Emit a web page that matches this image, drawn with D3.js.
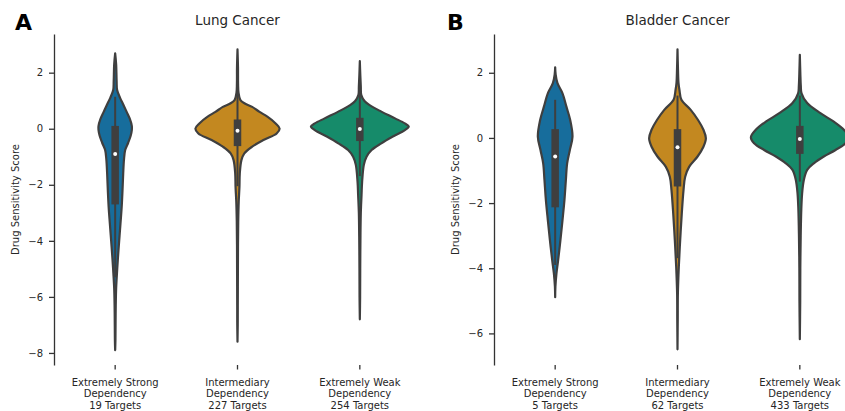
<!DOCTYPE html>
<html>
<head>
<meta charset="utf-8">
<script src="https://cdn.jsdelivr.net/npm/d3@7"></script>
<style>
  html, body { margin: 0; padding: 0; background: #fff; }
  svg { display: block; font-family: "DejaVu Sans", sans-serif; }
</style>
</head>
<body>
<svg id="chart" width="845" height="411"></svg>
<script>
// Dependency groups shown on the x axis
const groupLines = [
  ["Extremely Strong", "Dependency"],
  ["Intermediary", "Dependency"],
  ["Extremely Weak", "Dependency"]
];
const lungTargets = [19, 227, 254];
const bladderTargets = [5, 62, 433];

const groupColors = ["#176d9c", "#c38820", "#168b6a"];

// Kernel density profiles: [score, relative density]
const lungStrong = [[2.69,0],[2.3,0.02],[1.7,0.03],[1.38,0.04],[1.1,0.10],[0.85,0.17],[0.6,0.235],[0.35,0.30],[0.1,0.34],[-0.05,0.34],[-0.25,0.317],[-0.5,0.266],[-0.76,0.205],[-1.1,0.18],[-1.6,0.164],[-2.2,0.15],[-2.8,0.133],[-3.4,0.108],[-4.0,0.082],[-4.6,0.057],[-5.15,0.037],[-5.7,0.02],[-6.3,0.012],[-7.0,0.008],[-7.5,0.006],[-7.9,0]];
const lungInter = [[2.83,0],[2.2,0.01],[1.6,0.012],[1.3,0.02],[1.02,0.06],[0.9,0.15],[0.78,0.30],[0.6,0.45],[0.43,0.61],[0.19,0.78],[0.01,0.86],[-0.17,0.80],[-0.4,0.53],[-0.64,0.30],[-0.88,0.14],[-1.12,0.08],[-1.59,0.047],[-2.07,0.04],[-2.6,0.025],[-3.3,0.015],[-4.2,0.01],[-5.2,0.008],[-6.3,0.006],[-7.0,0.005],[-7.6,0]];
const lungWeak = [[2.41,0],[1.9,0.01],[1.5,0.02],[1.2,0.03],[0.98,0.10],[0.84,0.20],[0.61,0.44],[0.37,0.72],[0.19,0.92],[0.08,1.0],[-0.05,0.92],[-0.28,0.675],[-0.52,0.44],[-0.76,0.24],[-1.0,0.137],[-1.29,0.082],[-1.89,0.047],[-2.36,0.035],[-3.0,0.02],[-4.0,0.012],[-5.0,0.008],[-6.0,0.006],[-6.8,0]];

const bladderStrong = [[2.17,0],[1.95,0.01],[1.68,0.047],[1.37,0.15],[0.96,0.23],[0.55,0.307],[0.04,0.354],[-0.37,0.30],[-0.78,0.245],[-1.29,0.219],[-1.9,0.19],[-2.52,0.15],[-3.13,0.108],[-3.75,0.061],[-4.15,0.027],[-4.57,0.005],[-4.89,0]];
const bladderInter = [[2.72,0],[2.1,0.01],[1.7,0.02],[1.47,0.04],[1.17,0.08],[0.86,0.27],[0.55,0.42],[0.25,0.53],[-0.01,0.58],[-0.27,0.53],[-0.57,0.41],[-0.88,0.24],[-1.19,0.157],[-1.6,0.123],[-2.31,0.088],[-3.13,0.055],[-3.95,0.027],[-4.77,0.008],[-5.59,0.005],[-6.49,0]];
const bladderWeak = [[2.55,0],[2.0,0.01],[1.6,0.02],[1.37,0.035],[1.07,0.15],[0.76,0.42],[0.5,0.695],[0.25,0.90],[0.02,1.0],[-0.16,0.935],[-0.37,0.73],[-0.57,0.49],[-0.78,0.286],[-0.98,0.15],[-1.29,0.082],[-1.7,0.047],[-2.2,0.03],[-3.0,0.018],[-4.0,0.01],[-5.0,0.008],[-6.18,0]];

// Box summaries: [lower whisker, Q1, median, Q3, upper whisker]
const lungBoxes = [[-5.3,-2.7,-0.9,0.1,1.14],[-2.05,-0.62,-0.07,0.33,1.7],[-1.69,-0.44,-0.01,0.39,1.6]];
const bladderBoxes = [[-3.9,-2.13,-0.57,0.27,1.17],[-3.69,-1.49,-0.29,0.27,1.3],[-1.34,-0.49,-0.03,0.37,1.3]];

const lungTicks = [2, 0, -2, -4, -6, -8];
const bladderTicks = [2, 0, -2, -4, -6];

const svg = d3.select("#chart");
const edge = "#3f3f3f";
const textColor = "#262626";
const plotTop = 34, plotBottom = 365;

function panel(opts) {
  const g = svg.append("g");
  const x = d3.scaleBand().domain([0, 1, 2]).range([opts.left, opts.right]).padding(0);
  const y = d3.scaleLinear().domain(opts.yDomain).range([plotBottom, plotTop]);
  const maxD = d3.max(opts.profiles, p => d3.max(p, d => d[1]));
  const w = d3.scaleLinear().domain([0, maxD]).range([0, 0.4 * x.bandwidth()]);

  // violins with inner box
  opts.profiles.forEach((prof, i) => {
    const cx = x(i) + x.bandwidth() / 2;
    const area = d3.area()
      .y(d => y(d[0]))
      .x0(d => cx - w(d[1]))
      .x1(d => cx + w(d[1]))
      .curve(d3.curveCatmullRom.alpha(0.5));
    g.append("path")
      .attr("d", area(prof))
      .attr("fill", groupColors[i])
      .attr("stroke", edge)
      .attr("stroke-width", 2.2)
      .attr("stroke-linejoin", "round");

    const b = opts.boxes[i];
    g.append("line")
      .attr("x1", cx).attr("x2", cx)
      .attr("y1", y(b[0])).attr("y2", y(b[4]))
      .attr("stroke", edge).attr("stroke-width", 2);
    g.append("rect")
      .attr("x", cx - 3.75).attr("width", 7.5)
      .attr("y", y(b[3])).attr("height", y(b[1]) - y(b[3]))
      .attr("fill", edge);
    g.append("circle")
      .attr("cx", cx).attr("cy", y(b[2])).attr("r", 2)
      .attr("fill", "#fff");
  });

  // y axis
  const ya = g.append("g")
    .attr("transform", `translate(${opts.left},0)`)
    .call(d3.axisLeft(y).tickValues(opts.ticks).tickSize(5).tickSizeOuter(0).tickPadding(6));
  ya.select(".domain").attr("stroke", "#333").attr("stroke-width", 1.3);
  ya.selectAll(".tick line").attr("stroke", "#333").attr("stroke-width", 1.3);
  ya.selectAll(".tick text").attr("fill", textColor).style("font-size", "10px")
    .style("font-family", "DejaVu Sans");

  // x ticks and multi-line labels
  const xa = g.append("g").attr("transform", `translate(0,${plotBottom})`)
    .call(d3.axisBottom(x).tickSize(4.5).tickFormat(() => ""));
  xa.select(".domain").remove();
  xa.selectAll(".tick line").attr("stroke", "#333").attr("stroke-width", 1.3);
  xa.selectAll(".tick text").remove();
  groupLines.forEach((lines, i) => {
    const cx = x(i) + x.bandwidth() / 2;
    const t = g.append("text")
      .attr("text-anchor", "middle")
      .attr("fill", textColor)
      .style("font-size", "10px");
    lines.concat([`${opts.targets[i]} Targets`]).forEach((s, k) => {
      t.append("tspan").attr("x", cx).attr("y", 385.8 + k * 11.5).text(s);
    });
  });

  // axis label
  g.append("text")
    .attr("transform", `translate(${opts.labelX},${(plotTop + plotBottom) / 2}) rotate(-90)`)
    .attr("text-anchor", "middle")
    .attr("dy", "0.35em")
    .attr("fill", textColor)
    .style("font-size", "10px")
    .text("Drug Sensitivity Score");

  // title
  g.append("text")
    .attr("x", (opts.left + opts.right) / 2)
    .attr("y", 24.5)
    .attr("text-anchor", "middle")
    .attr("fill", textColor)
    .style("font-size", "13.5px")
    .text(opts.title);

  // panel letter
  g.append("text")
    .attr("x", opts.letterX)
    .attr("y", 30)
    .attr("fill", "#000")
    .style("font-size", "22px")
    .style("font-weight", "bold")
    .text(opts.letter);
}

panel({
  left: 54, right: 421, yDomain: [-8.43, 3.38],
  profiles: [lungStrong, lungInter, lungWeak], boxes: lungBoxes,
  ticks: lungTicks, targets: lungTargets,
  title: "Lung Cancer", letter: "A", letterX: 15, labelX: 15
});
panel({
  left: 494, right: 861, yDomain: [-6.97, 3.19],
  profiles: [bladderStrong, bladderInter, bladderWeak], boxes: bladderBoxes,
  ticks: bladderTicks, targets: bladderTargets,
  title: "Bladder Cancer", letter: "B", letterX: 447, labelX: 455
});
</script>
</body>
</html>
